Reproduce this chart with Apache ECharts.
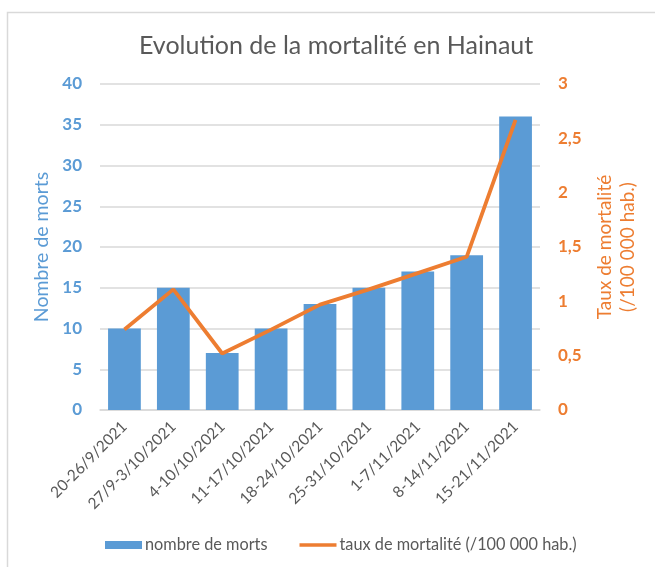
<!DOCTYPE html>
<html>
<head>
<meta charset="utf-8">
<script src="https://cdn.jsdelivr.net/npm/echarts@6/dist/echarts.min.js"></script>
<style>
html,body{margin:0;padding:0;background:#fff;}
#chart{width:655px;height:567px;}
</style>
</head>
<body>
<div id="chart"></div>
<script>
var categories = ['20-26/9/2021','27/9-3/10/2021','4-10/10/2021','11-17/10/2021','18-24/10/2021','25-31/10/2021','1-7/11/2021','8-14/11/2021','15-21/11/2021'];
var deaths = [10, 15, 7, 10, 13, 15, 17, 19, 36];
var rate = [0.74, 1.11, 0.52, 0.74, 0.97, 1.11, 1.26, 1.41, 2.67];
var leftTicks = [0, 40, 5];
var rightTicks = [0, 3, 0.5];

var FONT = 'Lato';
var chart = echarts.init(document.getElementById('chart'));
chart.setOption({
  animation: false,
  backgroundColor: '#fff',
  textStyle: {fontFamily: FONT},
  title: {
    text: 'Evolution de la mortalité en Hainaut',
    left: 134, top: 28,
    textStyle: {fontFamily: FONT, fontSize: 25, fontWeight: 'normal', color: '#595959'}
  },
  graphic: [{
    type: 'polyline', silent: true,
    shape: {points: [[7.5, 567], [7.5, 12.5], [655, 12.5]]},
    style: {stroke: '#d9d9d9', lineWidth: 1.5, fill: null}
  }],
  grid: {left: 100, right: 115, top: 84, bottom: 157},
  legend: {
    bottom: 9, left: 100,
    itemGap: 32,
    textStyle: {fontFamily: FONT, fontSize: 16.3, color: '#595959', padding: [0, 0, 0, -2]},
    data: [
      {name: 'nombre de morts', icon: 'rect', itemStyle: {color: '#5B9BD5'}},
      {name: 'taux de mortalité (/100 000 hab.)', icon: 'path://M0,0 L10,0 L10,1 L0,1 Z', itemStyle: {color: '#ED7D31'}}
    ],
    itemWidth: 37, itemHeight: 8
  },
  xAxis: {
    type: 'category', data: categories,
    axisLine: {lineStyle: {color: '#d9d9d9', width: 1.5}},
    axisTick: {show: false},
    axisLabel: {rotate: 45, color: '#595959', fontSize: 15.5, fontFamily: FONT, margin: 14, interval: 0}
  },
  yAxis: [{
    type: 'value', min: leftTicks[0], max: leftTicks[1], interval: leftTicks[2],
    name: 'Nombre de morts', nameLocation: 'middle', nameGap: 43, nameRotate: 90,
    nameTextStyle: {color: '#5B9BD5', fontSize: 19.5, fontFamily: FONT},
    axisLine: {show: false}, axisTick: {show: false},
    axisLabel: {color: '#5B9BD5', fontWeight: 'bold', fontSize: 17, fontFamily: FONT, margin: 18},
    splitLine: {lineStyle: {color: '#d9d9d9', width: 1.5}}
  }, {
    type: 'value', min: rightTicks[0], max: rightTicks[1], interval: rightTicks[2],
    name: 'Taux de mortalité\n(/100 000 hab.)', nameLocation: 'middle', nameGap: 53, nameRotate: 90,
    nameTextStyle: {color: '#ED7D31', fontSize: 19, fontFamily: FONT, lineHeight: 23},
    axisLine: {show: false}, axisTick: {show: false},
    splitLine: {show: false},
    axisLabel: {color: '#ED7D31', fontWeight: 'bold', fontSize: 17, fontFamily: FONT, margin: 18,
      formatter: function (v) { return String(v).replace('.', ','); }}
  }],
  series: [{
    name: 'nombre de morts', type: 'bar', data: deaths, yAxisIndex: 0,
    barCategoryGap: '33%',
    itemStyle: {color: '#5B9BD5'}
  }, {
    name: 'taux de mortalité (/100 000 hab.)', type: 'line', data: rate, yAxisIndex: 1,
    symbol: 'none', lineStyle: {color: '#ED7D31', width: 3.8}, itemStyle: {color: '#ED7D31'}
  }]
});
</script>
</body>
</html>
